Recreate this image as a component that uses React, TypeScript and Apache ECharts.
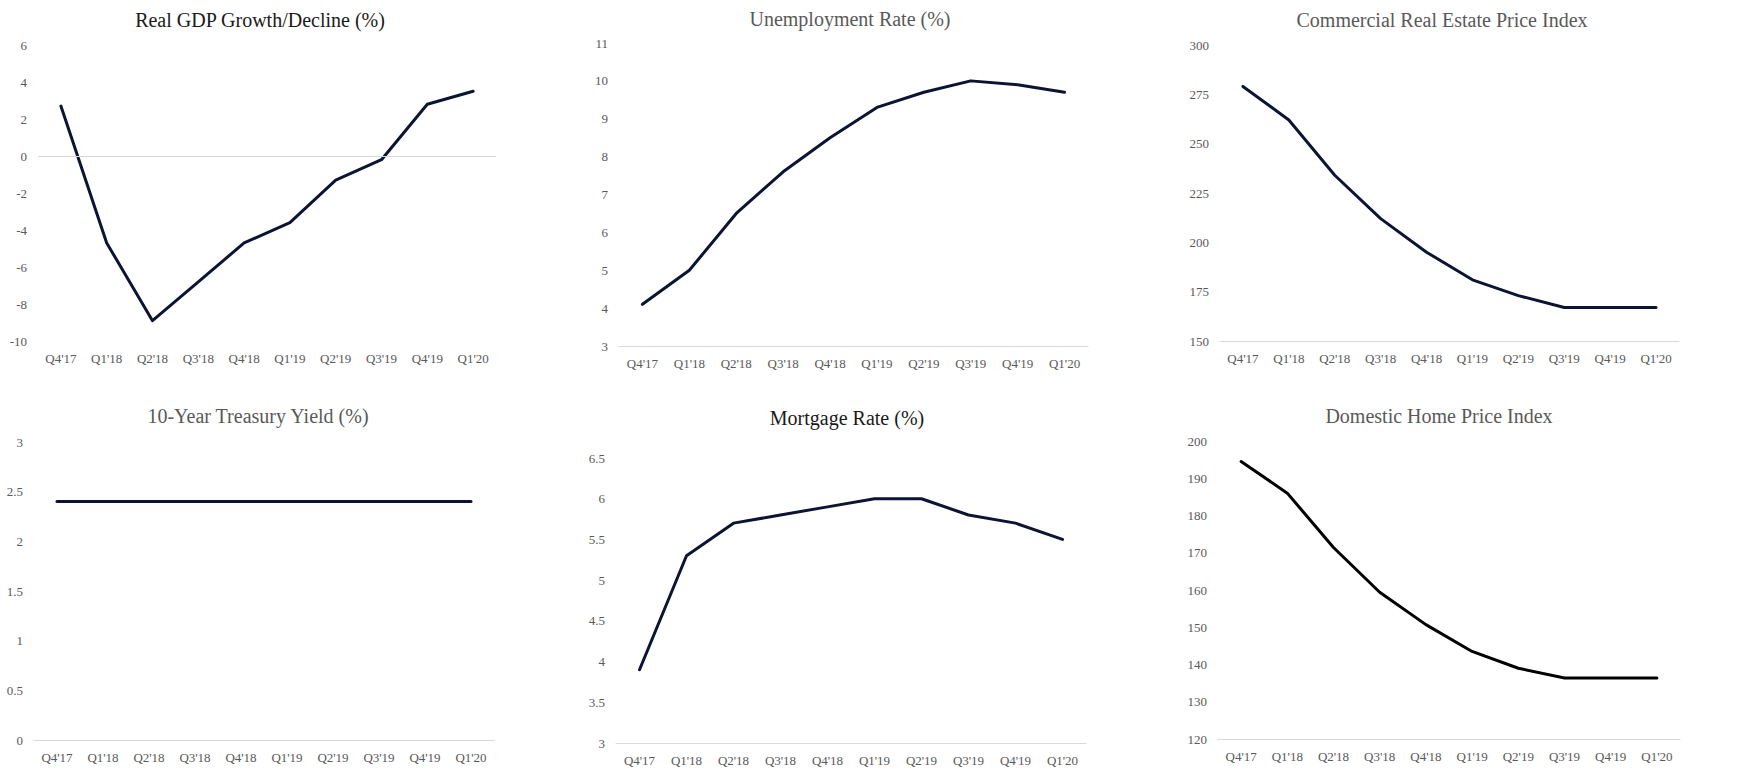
import React, { useEffect, useRef } from "react";
import * as echarts from "echarts";

const categories = ["Q4'17", "Q1'18", "Q2'18", "Q3'18", "Q4'18", "Q1'19", "Q2'19", "Q3'19", "Q4'19", "Q1'20"];
const gdpGrowth = [2.7, -4.7, -8.9, -6.8, -4.7, -3.6, -1.3, -0.2, 2.8, 3.5];
const unemploymentRate = [4.1, 5.0, 6.5, 7.6, 8.5, 9.3, 9.7, 10.0, 9.9, 9.7];
const commercialRealEstate = [279, 262, 234, 212, 195, 181, 173, 167, 167, 167];
const treasuryYield = [2.4, 2.4, 2.4, 2.4, 2.4, 2.4, 2.4, 2.4, 2.4, 2.4];
const mortgageRate = [3.9, 5.3, 5.7, 5.8, 5.9, 6.0, 6.0, 5.8, 5.7, 5.5];
const homePriceIndex = [194.5, 186, 171.4, 159.4, 150.7, 143.5, 139, 136.4, 136.4, 136.4];

const titles = [
  "Real GDP Growth/Decline (%)",
  "Unemployment Rate (%)",
  "Commercial Real Estate Price Index",
  "10-Year Treasury Yield (%)",
  "Mortgage Rate (%)",
  "Domestic Home Price Index",
];
const yRanges = [
  { min: -10, max: 6, interval: 2 },
  { min: 3, max: 11, interval: 1 },
  { min: 150, max: 300, interval: 25 },
  { min: 0, max: 3, interval: 0.5 },
  { min: 3, max: 6.5, interval: 0.5 },
  { min: 120, max: 200, interval: 10 },
];

const FONT = "'Liberation Serif', 'DejaVu Serif', serif";
const NAVY = "#0b1533";
const LABEL = "#595959";
const AXIS = "#d9d9d9";

const grids = [
  { left: 38, top: 45, width: 458, height: 296 },
  { left: 619, top: 43, width: 469, height: 303 },
  { left: 1220, top: 45, width: 459, height: 296 },
  { left: 34, top: 442, width: 460, height: 298 },
  { left: 616, top: 458, width: 470, height: 285 },
  { left: 1218, top: 441, width: 462, height: 298 },
];
const titlePos = [
  { x: 255, y: 5, color: "#1a1a1a" },
  { x: 845, y: 4, color: LABEL },
  { x: 1437, y: 5, color: LABEL },
  { x: 253, y: 401, color: LABEL },
  { x: 842, y: 403, color: "#1a1a1a" },
  { x: 1434, y: 401, color: LABEL },
];

export default function App() {
  const ref = useRef<HTMLDivElement>(null);
  useEffect(() => {
    if (!ref.current) return;
    const chart = echarts.init(ref.current, undefined, { renderer: "svg" });
    const seriesData = [gdpGrowth, unemploymentRate, commercialRealEstate, treasuryYield, mortgageRate, homePriceIndex];
    const option: any = {
      animation: false,
      backgroundColor: "#ffffff",
      textStyle: { fontFamily: FONT },
      title: titles.map((t, i) => ({
        text: t,
        left: titlePos[i].x,
        top: titlePos[i].y,
        textAlign: "center",
        textStyle: { fontFamily: FONT, fontSize: 20, fontWeight: "normal", color: titlePos[i].color },
      })),
      grid: grids.map((g) => ({ ...g, containLabel: false })),
      xAxis: grids.map((_, i) => ({
        type: "category",
        gridIndex: i,
        data: categories,
        boundaryGap: true,
        axisLine: { show: i !== 0, onZero: false, lineStyle: { color: AXIS, width: 1 } },
        axisTick: { show: false },
        axisLabel: { color: LABEL, fontSize: 13, fontFamily: FONT, margin: 11 },
        splitLine: { show: false },
      })),
      yAxis: grids.map((_, i) => ({
        type: "value",
        gridIndex: i,
        min: yRanges[i].min,
        max: yRanges[i].max,
        interval: yRanges[i].interval,
        axisLine: { show: false },
        axisTick: { show: false },
        splitLine: { show: false },
        axisLabel: { color: LABEL, fontSize: 13, fontFamily: FONT, margin: 11 },
      })),
      series: seriesData.map((d, i) => ({
        type: "line",
        xAxisIndex: i,
        yAxisIndex: i,
        data: d,
        showSymbol: false,
        symbol: "none",
        lineStyle: { color: i === 5 ? "#000000" : NAVY, width: 3, cap: "round", join: "round" },
        itemStyle: { color: i === 5 ? "#000000" : NAVY },
        markLine:
          i === 0
            ? {
                silent: true,
                symbol: "none",
                label: { show: false },
                lineStyle: { color: AXIS, type: "solid", width: 1 },
                data: [{ yAxis: 0 }],
              }
            : undefined,
        z: 3,
      })),
    };
    chart.setOption(option);
    return () => chart.dispose();
  }, []);
  return (
    <div
      ref={ref}
      style={{ position: "absolute", left: 0, top: 0, width: 1744, height: 770, background: "#fff" }}
    />
  );
}
